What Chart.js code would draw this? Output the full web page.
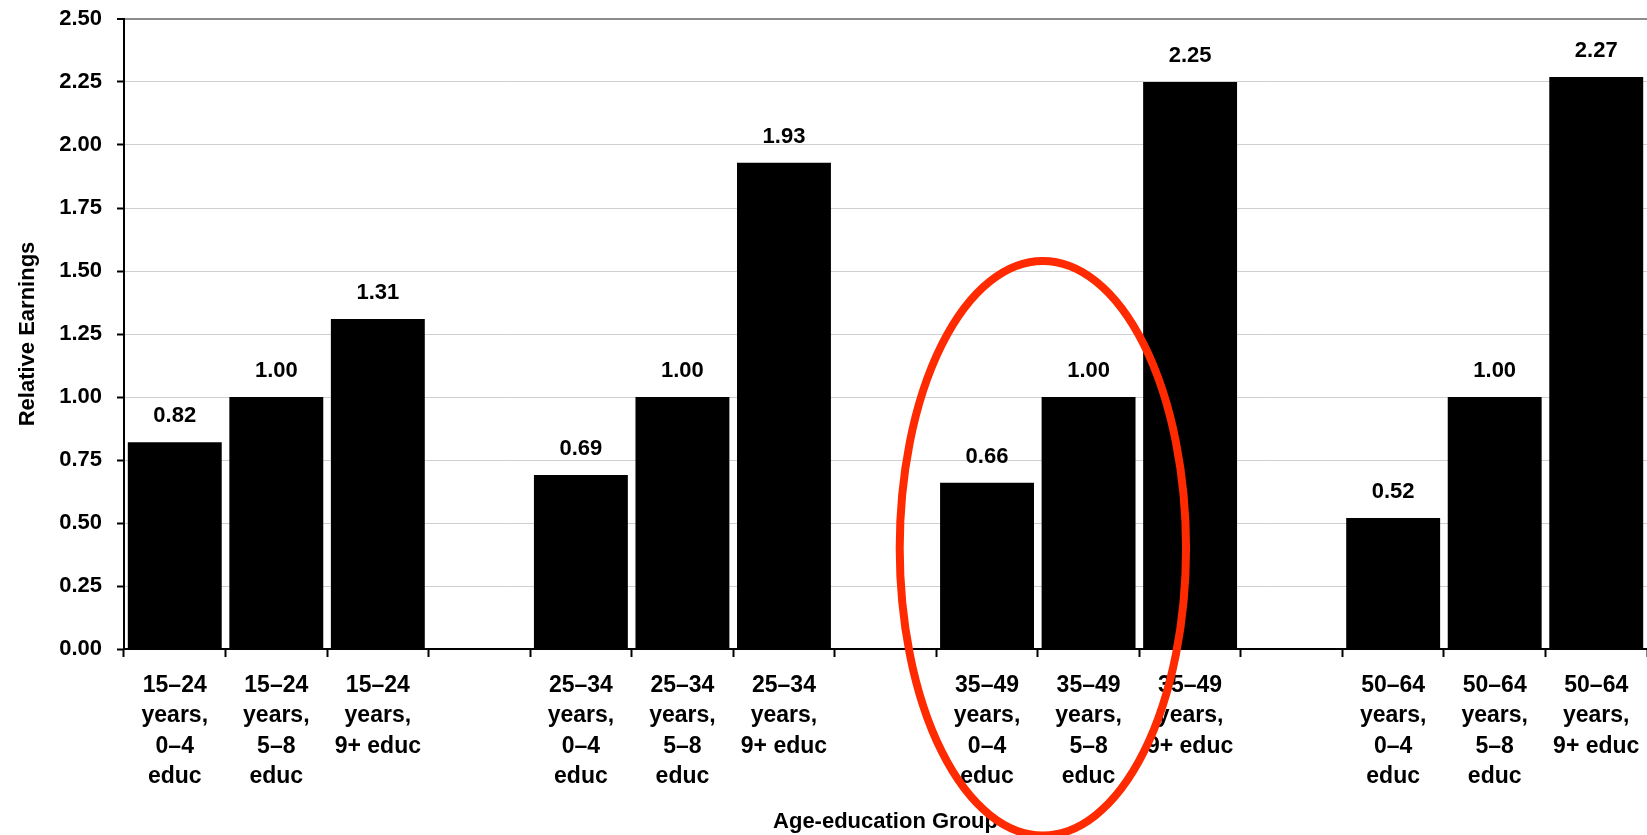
<!DOCTYPE html>
<html>
<head>
<meta charset="utf-8">
<title>Relative Earnings by Age-education Group</title>
<script src="https://cdn.jsdelivr.net/npm/chart.js@4/dist/chart.umd.min.js"></script>
<style>
  html, body { margin: 0; padding: 0; background: #ffffff; }
  #wrap { width: 1647px; height: 835px; }
  canvas { display: block; }
</style>
</head>
<body>
<div id="wrap"><canvas id="chart" width="1647" height="835"></canvas></div>
<script>
// Category labels (multi-line); empty slots separate the age groups
const categoryLabels = [
  ['15–24', 'years,', '0–4', 'educ'],
  ['15–24', 'years,', '5–8', 'educ'],
  ['15–24', 'years,', '9+ educ'],
  '',
  ['25–34', 'years,', '0–4', 'educ'],
  ['25–34', 'years,', '5–8', 'educ'],
  ['25–34', 'years,', '9+ educ'],
  '',
  ['35–49', 'years,', '0–4', 'educ'],
  ['35–49', 'years,', '5–8', 'educ'],
  ['35–49', 'years,', '9+ educ'],
  '',
  ['50–64', 'years,', '0–4', 'educ'],
  ['50–64', 'years,', '5–8', 'educ'],
  ['50–64', 'years,', '9+ educ']
];

// Earnings relative to the 5–8 years of education group in each age band
const relativeEarnings = [
  0.82, 1.00, 1.31, null,
  0.69, 1.00, 1.93, null,
  0.66, 1.00, 2.25, null,
  0.52, 1.00, 2.27
];

// Value axis range
const yMin = 0;
const yMax = 2.5;
const yStep = 0.25;

// Ring drawn around the 35–49 years, 0–8 educ bars (in axis units)
const highlightRing = { centerIndex: 8.55, centerValue: 0.40, radiusCategories: 1.41, radiusValue: 1.14 };

const FONT = '"Liberation Sans", Arial, Helvetica, sans-serif';

const valueLabels = {
  id: 'valueLabels',
  afterDatasetsDraw(chart) {
    const ctx = chart.ctx;
    const meta = chart.getDatasetMeta(0);
    ctx.save();
    ctx.font = 'bold 22px ' + FONT;
    ctx.fillStyle = '#000';
    ctx.textAlign = 'center';
    ctx.textBaseline = 'alphabetic';
    meta.data.forEach((bar, i) => {
      const v = relativeEarnings[i];
      if (v === null || v === undefined) return;
      ctx.fillText(v.toFixed(2), bar.x, bar.y - 20);
    });
    ctx.restore();
  }
};

const ring = {
  id: 'ring',
  afterDraw(chart) {
    const xs = chart.scales.x, ys = chart.scales.y;
    const cx = xs.getPixelForValue(highlightRing.centerIndex);
    const rx = xs.getPixelForValue(highlightRing.centerIndex + highlightRing.radiusCategories) - cx;
    const cy = ys.getPixelForValue(highlightRing.centerValue);
    const ry = cy - ys.getPixelForValue(highlightRing.centerValue + highlightRing.radiusValue);
    const ctx = chart.ctx;
    ctx.save();
    ctx.beginPath();
    ctx.ellipse(cx, cy, rx, ry, 0, 0, Math.PI * 2);
    ctx.lineWidth = 8;
    ctx.strokeStyle = '#ff2a00';
    ctx.stroke();
    ctx.restore();
  }
};

new Chart(document.getElementById('chart'), {
  type: 'bar',
  data: {
    labels: categoryLabels,
    datasets: [{
      data: relativeEarnings,
      backgroundColor: '#000000',
      borderWidth: 0,
      categoryPercentage: 1.0,
      barPercentage: 0.925
    }]
  },
  options: {
    responsive: false,
    animation: false,
    devicePixelRatio: 1,
    layout: { padding: { top: 19, right: 0, bottom: 0, left: 0 } },
    plugins: {
      legend: { display: false },
      tooltip: { enabled: false }
    },
    scales: {
      x: {
        offset: true,
        afterFit(scale) {
          scale.height = 186;
          scale.paddingLeft = 0;
          scale.paddingRight = 0;
        },
        grid: {
          display: true,
          drawOnChartArea: false,
          drawTicks: true,
          tickLength: 8,
          tickColor: '#000',
          tickWidth: 2,
          offset: true
        },
        border: { display: true, color: '#000', width: 2 },
        ticks: {
          color: '#000',
          font: { family: FONT, size: 23, weight: 'bold', lineHeight: 1.33 },
          padding: 13,
          maxRotation: 0,
          autoSkip: false
        },
        title: {
          display: true,
          text: 'Age-education Group',
          color: '#000',
          font: { family: FONT, size: 22, weight: 'bold', lineHeight: 1.2 },
          padding: { top: 0, bottom: 0 }
        }
      },
      y: {
        min: yMin,
        max: yMax,
        afterFit(scale) {
          scale.width = 124;
          scale.paddingTop = 0;
          scale.paddingBottom = 0;
        },
        grid: {
          color(c) { return c.tick && c.tick.value === yMax ? '#8c8c8c' : '#cfcfcf'; },
          lineWidth(c) { return c.tick && c.tick.value === yMax ? 2 : 1; },
          drawTicks: true,
          tickLength: 7,
          tickColor: '#000',
          tickWidth: 2
        },
        border: { display: true, color: '#000', width: 2 },
        ticks: {
          stepSize: yStep,
          color: '#000',
          font: { family: FONT, size: 22, weight: 'bold' },
          padding: 15,
          callback(v) { return Number(v).toFixed(2); }
        },
        title: {
          display: true,
          text: 'Relative Earnings',
          color: '#000',
          font: { family: FONT, size: 22, weight: 'bold', lineHeight: 1.2 },
          padding: { top: 15, bottom: 0 }
        }
      }
    }
  },
  plugins: [valueLabels, ring]
});
</script>
</body>
</html>
